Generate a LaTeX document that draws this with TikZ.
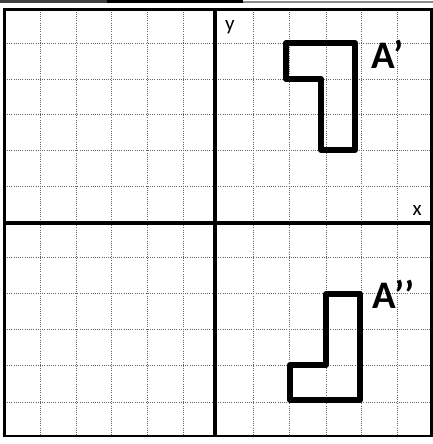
\documentclass[tikz,border=0pt]{standalone}
\usepackage{fontspec}
\setmainfont{Carlito}
\begin{document}
\begin{tikzpicture}[x=1pt,y=-1pt,
  gridline/.style={black!60,line width=0.8pt,dash pattern=on 1pt off 1.2pt},
  frameline/.style={black,line width=2.6pt},
  axisline/.style={black,line width=4.6pt},
  shapeline/.style={black,line width=6pt,line join=round},
  biglabel/.style={font=\fontsize{39}{39}\selectfont\bfseries,inner sep=0pt,anchor=base west},
  axlabel/.style={font=\fontsize{21}{21}\selectfont,inner sep=0pt,anchor=base west}]
\useasboundingbox (0,0) rectangle (433,444);
% top strip
\fill[black!75] (0,0) rectangle (107,3.3);
\fill[black] (107,0) rectangle (243,3.3);
\fill[black!45] (243,0.8) rectangle (433,3.5);
% grid
\foreach \gx in {40,76,111,147,183,253,289,326,361,397}
  \draw[gridline] (\gx,9.5) -- (\gx,436);
\foreach \gy in {43,79,114,150,186,257,293,329,365,402}
  \draw[gridline] (4.7,\gy) -- (431.5,\gy);
% frame and axes
\draw[frameline] (4.7,9.5) rectangle (431.5,436);
\coordinate (ytop) at (215,9.5);
\coordinate (ybot) at (215,436);
\coordinate (xl) at (4.7,223);
\coordinate (xr) at (431.5,223);
\draw[axisline] (ytop) -- (ybot);
\draw[axisline] (xl) -- (xr);
% labels
\node[axlabel] (ylab) at (225,30.5) {y};
\node[axlabel] (xlab) at (412.5,215) {x};
% A'
\draw[shapeline] (286,43) -- (355,43) -- (355,150) -- (321,150) -- (321,79) -- (286,79) -- cycle;
\node[biglabel] (Ap) at (371.5,69) {A’};
% A''
\draw[shapeline] (326,294) -- (360,294) -- (360,400) -- (290,400) -- (290,365) -- (326,365) -- cycle;
\node[biglabel] (App) at (372,308) {A’’};
\end{tikzpicture}
\end{document}
